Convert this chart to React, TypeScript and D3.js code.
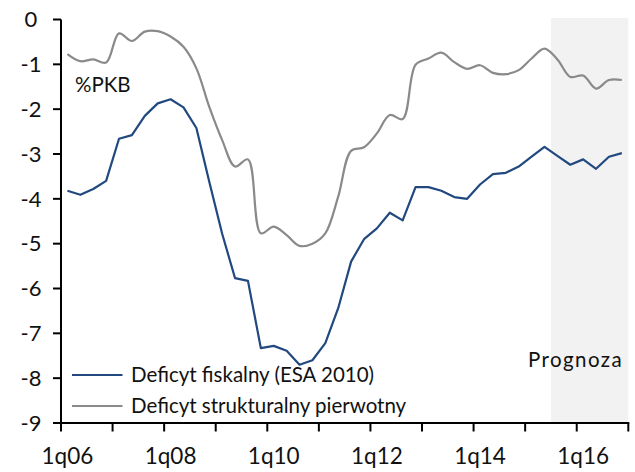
import React, { useEffect, useRef } from "react";
import * as d3 from "d3";

// quarters 1q06 .. 4q16
const years = ["06", "07", "08", "09", "10", "11", "12", "13", "14", "15", "16"];
const quarters = years.flatMap(y => ["1q" + y, "2q" + y, "3q" + y, "4q" + y]);
const tickLabels = ["1q06", "1q08", "1q10", "1q12", "1q14", "1q16"];
const yTicks = [0, -1, -2, -3, -4, -5, -6, -7, -8, -9];

// Deficyt fiskalny (ESA 2010), % PKB
const fiscal = [
  -3.82, -3.91, -3.78, -3.6, -2.66, -2.58, -2.15, -1.87, -1.78, -1.96, -2.42,
  -3.62, -4.78, -5.77, -5.83, -7.33, -7.28, -7.39, -7.7, -7.6, -7.22, -6.44,
  -5.4, -4.9, -4.66, -4.31, -4.48, -3.74, -3.74, -3.82, -3.96, -4.0, -3.68,
  -3.45, -3.42, -3.28, -3.06, -2.84, -3.04, -3.24, -3.12, -3.33, -3.06, -2.98,
];
// Deficyt strukturalny pierwotny
const structural = [
  -0.77, -0.93, -0.89, -0.96, -0.31, -0.48, -0.27, -0.26, -0.38, -0.61, -1.09,
  -1.95, -2.69, -3.28, -3.12, -4.77, -4.62, -4.81, -5.05, -5.0, -4.77, -3.95,
  -2.93, -2.85, -2.54, -2.13, -2.22, -1.01, -0.87, -0.74, -0.95, -1.1, -1.02,
  -1.19, -1.22, -1.13, -0.87, -0.65, -0.89, -1.28, -1.25, -1.54, -1.35, -1.35,
];
const forecastFrom = "3q15";

const W = 635;
const H = 472;
const FONT = "Lato, 'DejaVu Sans', sans-serif";

const App = () => {
  const ref = useRef<SVGSVGElement>(null);

  useEffect(() => {
    const svg = d3.select(ref.current);
    svg.selectAll("*").remove();

    const x = d3.scaleBand().domain(quarters).range([61, 628.3]);
    const y = d3.scaleLinear().domain([-9, 0]).range([423, 19.5]);
    const cx = (q: string) => (x(q) as number) + x.bandwidth() / 2;

    // forecast shading
    svg.append("rect")
      .attr("x", x(forecastFrom) as number)
      .attr("y", y(0) - 1.5)
      .attr("width", x.range()[1] - (x(forecastFrom) as number))
      .attr("height", y(-9) - y(0) + 1.5)
      .attr("fill", "#f2f2f2");

    svg.append("text")
      .attr("x", 623)
      .attr("y", 367)
      .attr("text-anchor", "end")
      .attr("letter-spacing", "1.4px")
      .style("font", `20.5px ${FONT}`)
      .attr("fill", "#111")
      .text("Prognoza");

    const line = d3.line<number>()
      .x((d, i) => cx(quarters[i]))
      .y(d => y(d));

    svg.append("path")
      .datum(structural)
      .attr("fill", "none")
      .attr("stroke", "#8a8a8a")
      .attr("stroke-width", 2.2)
      .attr("d", line.curve(d3.curveCatmullRom.alpha(0.5)));

    svg.append("path")
      .datum(fiscal)
      .attr("fill", "none")
      .attr("stroke", "#21497f")
      .attr("stroke-width", 2.2)
      .attr("stroke-linejoin", "round")
      .attr("d", line.curve(d3.curveLinear));

    // y axis
    const ya = svg.append("g");
    ya.append("line")
      .attr("x1", 61).attr("x2", 61)
      .attr("y1", y(0)).attr("y2", y(-9))
      .attr("stroke", "#000").attr("stroke-width", 2);
    ya.selectAll("line.t").data(yTicks).enter().append("line")
      .attr("class", "t")
      .attr("x1", 53).attr("x2", 61)
      .attr("y1", d => y(d)).attr("y2", d => y(d))
      .attr("stroke", "#000").attr("stroke-width", 2);
    ya.selectAll("text").data(yTicks).enter().append("text")
      .attr("x", 31)
      .attr("y", d => y(d))
      .attr("dy", "0.35em")
      .attr("text-anchor", "middle")
      .style("font", `22px ${FONT}`)
      .attr("fill", "#111")
      .text(d => (d === 0 ? "0" : "-" + Math.abs(d)));

    // x axis
    const xa = svg.append("g");
    xa.append("line")
      .attr("x1", 60).attr("x2", 629.3)
      .attr("y1", y(-9)).attr("y2", y(-9))
      .attr("stroke", "#000").attr("stroke-width", 2);
    const boundaries = quarters.filter((q, i) => i % 4 === 0).map(q => x(q) as number).concat([x.range()[1]]);
    xa.selectAll("line.t").data(boundaries).enter().append("line")
      .attr("class", "t")
      .attr("x1", d => d).attr("x2", d => d)
      .attr("y1", y(-9)).attr("y2", y(-9) + 8.5)
      .attr("stroke", "#000").attr("stroke-width", 2);
    xa.selectAll("text").data(tickLabels).enter().append("text")
      .attr("x", d => cx(d))
      .attr("y", 464)
      .attr("text-anchor", "middle")
      .style("font", `22.5px ${FONT}`)
      .attr("fill", "#111")
      .text(d => d);

    svg.append("text")
      .attr("x", 75)
      .attr("y", 92)
      .style("font", `20.5px ${FONT}`)
      .attr("fill", "#111")
      .text("%PKB");

    // legend
    const legend = [
      { name: "Deficyt fiskalny (ESA 2010)", color: "#21497f" },
      { name: "Deficyt strukturalny pierwotny", color: "#8a8a8a" },
    ];
    const lg = svg.append("g");
    legend.forEach((l, i) => {
      const ly = 375 + i * 31;
      lg.append("line")
        .attr("x1", 72).attr("x2", 122.5)
        .attr("y1", ly).attr("y2", ly)
        .attr("stroke", l.color).attr("stroke-width", 2.2);
      lg.append("text")
        .attr("x", 131)
        .attr("y", ly)
        .attr("dy", "0.36em")
        .style("font", `20.5px ${FONT}`)
        .attr("fill", "#111")
        .text(l.name);
    });
  }, []);

  return (
    <div style={{ position: "absolute", left: 0, top: 0 }}>
      <svg ref={ref} width={W} height={H} style={{ display: "block", background: "#fff" }} />
    </div>
  );
};

export default App;
